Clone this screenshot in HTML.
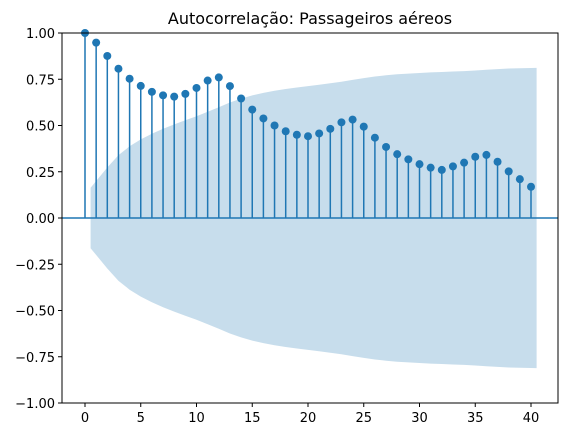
<!DOCTYPE html>
<html><head><meta charset="utf-8"><style>
html,body{margin:0;padding:0;background:#fff;}
svg{display:block;font-family:"DejaVu Sans","Liberation Sans",sans-serif;}
</style></head><body>
<svg id="c" width="568" height="436" viewBox="0 0 568 436">
<text x="310" y="24" text-anchor="middle" font-size="16" fill="#000">Autocorrelação: Passageiros aéreos</text>
<g id="plot"></g>
</svg>
<script>
const lags = [0,1,2,3,4,5,6,7,8,9,10,11,12,13,14,15,16,17,18,19,20,21,22,23,24,25,26,27,28,29,30,31,32,33,34,35,36,37,38,39,40];
const acfValues = [1.000,0.948,0.876,0.807,0.753,0.714,0.682,0.663,0.656,0.671,0.703,0.743,0.760,0.713,0.646,0.586,0.538,0.500,0.469,0.450,0.442,0.457,0.482,0.517,0.532,0.494,0.434,0.384,0.345,0.317,0.291,0.272,0.260,0.279,0.299,0.331,0.341,0.304,0.252,0.210,0.169];
const nObs = 144;
const xTicks = [0,5,10,15,20,25,30,35,40];
const yTicks = [1.00,0.75,0.50,0.25,0.00,-0.25,-0.50,-0.75,-1.00];

const L=62,R=558,T=33,B=403;
const xs=v=>85+(v)*(531-85)/40;
const ys=v=>T+(1-v)*(B-T)/2;
const NS="http://www.w3.org/2000/svg";
const g=document.getElementById('plot');
function mk(tag,attrs,parent){const e=document.createElementNS(NS,tag);for(const k in attrs)e.setAttribute(k,attrs[k]);(parent||g).appendChild(e);return e;}

// confidence band
let cum=0;const up=[],lo=[];
for(let k=1;k<lags.length;k++){
  const se=1.96*Math.sqrt((1+2*cum)/nObs);
  cum+=acfValues[k]*acfValues[k];
  let xv=lags[k]; if(k===1)xv-=0.5; if(k===lags.length-1)xv+=0.5;
  up.push([xs(xv),ys(se)]);lo.push([xs(xv),ys(-se)]);
}
const pts=up.concat(lo.reverse()).map(p=>p[0].toFixed(1)+','+p[1].toFixed(1)).join(' ');
const band=mk('polygon',{points:pts,fill:'#1f77b4','fill-opacity':'0.25'});



// zero line
const zl=mk('line',{x1:L,x2:R,y1:ys(0),y2:ys(0),stroke:'#1f77b4','stroke-width':1.5});



// stems and markers
lags.forEach((lag,i)=>{
  const s=mk('line',{x1:xs(lag),x2:xs(lag),y1:ys(0),y2:ys(acfValues[i]),stroke:'#1f77b4','stroke-width':1.5});
  
  
  const c=mk('circle',{cx:xs(lag),cy:ys(acfValues[i]),r:4,fill:'#1f77b4'});
  
  
});

// axes frame
const fr=mk('rect',{x:L,y:T,width:R-L,height:B-T,fill:'none',stroke:'#000','stroke-width':1});



xTicks.forEach(t=>{
  const tl=mk('line',{x1:xs(t),x2:xs(t),y1:B,y2:B+4,stroke:'#000'});
  
  
  const tx=mk('text',{x:xs(t),y:B+19,'text-anchor':'middle','font-size':'13',fill:'#000'});
  tx.textContent=t;
  
  
});
yTicks.forEach(t=>{
  const tl=mk('line',{x1:L-4,x2:L,y1:ys(t),y2:ys(t),stroke:'#000'});
  
  
  const tx=mk('text',{x:L-7,y:ys(t)+5,'text-anchor':'end','font-size':'13',fill:'#000'});
  tx.textContent=(t<0?'\u2212':'')+Math.abs(t).toFixed(2);
  
  
});
</script>
</body></html>
